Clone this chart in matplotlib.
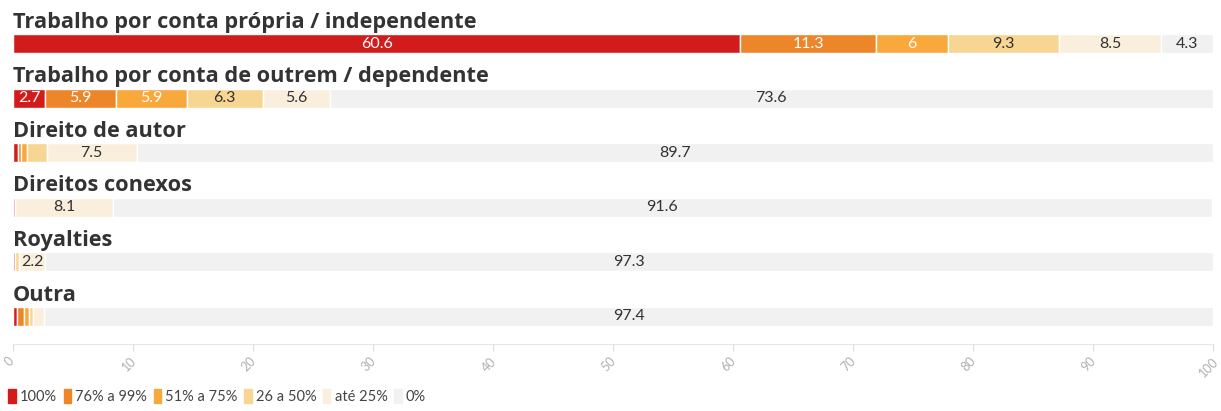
import matplotlib.pyplot as plt
import matplotlib.patches as mpatches
import matplotlib.transforms as mtransforms
import numpy as np

# Dados
categorias = [
    'Trabalho por conta própria / independente',
    'Trabalho por conta de outrem / dependente',
    'Direito de autor',
    'Direitos conexos',
    'Royalties',
    'Outra',
]
escalas = ['100%', '76% a 99%', '51% a 75%', '26 a 50%', 'até 25%', '0%']
v_100 = [60.6, 2.7, 0.4, 0.2, 0.2, 0.3]
v_76_99 = [11.3, 5.9, 0.3, 0.0, 0.0, 0.6]
v_51_75 = [6.0, 5.9, 0.5, 0.0, 0.0, 0.4]
v_26_50 = [9.3, 6.3, 1.6, 0.0, 0.3, 0.4]
v_ate25 = [8.5, 5.6, 7.5, 8.1, 2.2, 0.9]
v_0 = [4.3, 73.6, 89.7, 91.6, 97.3, 97.4]

cores = ['#d21c1c', '#ec8628', '#f9a93b', '#f7d592', '#f9efdc', '#f1f1f1']
cor_texto = ['white', 'white', 'white', '#333333', '#333333', '#333333']

series = [v_100, v_76_99, v_51_75, v_26_50, v_ate25, v_0]

plt.rcParams['font.family'] = ['Lato', 'DejaVu Sans']

fig = plt.figure(figsize=(12.21, 4.11), dpi=100)
W, H = 1221, 411
ax = fig.add_axes([13 / W, 1 - 344 / H, 1200 / W, 344 / H])

y = np.arange(len(categorias))
esquerda = np.zeros(len(categorias))
for serie, cor, ct in zip(series, cores, cor_texto):
    vals = np.array(serie)
    ax.barh(y, vals, left=esquerda, height=0.35, color=cor,
            edgecolor='white', linewidth=1)
    for i, v in enumerate(vals):
        if v >= 2:
            ax.text(esquerda[i] + v / 2, y[i], f'{v:g}', ha='center',
                    va='center', fontsize=11.5, color=ct)
    esquerda += vals

# titulos das linhas
for i, nome in enumerate(categorias):
    ax.text(0, y[i] - 0.29, nome, ha='left', va='baseline',
            fontsize=15.7, fontweight='bold', color='#333333',
            family='Open Sans')

ax.set_xlim(0, 100)
ax.set_ylim(5.504, -0.797)
ax.set_xticks(np.arange(0, 101, 10))
ax.tick_params(axis='x', colors='#dddddd', labelcolor='#b0b0b0',
               labelsize=9, length=5, rotation=45, pad=3)
desloc = mtransforms.ScaledTranslation(-4 / 100, 0, fig.dpi_scale_trans)
for lbl in ax.get_xticklabels():
    lbl.set_transform(lbl.get_transform() + desloc)
ax.set_yticks([])
for lado in ['top', 'left', 'right']:
    ax.spines[lado].set_visible(False)
ax.spines['bottom'].set_color('#e6e6e6')

handles = [mpatches.Patch(color=c, label=l) for c, l in zip(cores, escalas)]
fig.legend(handles=handles, loc='lower left', bbox_to_anchor=(-0.004, -0.015),
           ncol=6, frameon=False, fontsize=10.5, handlelength=0.5,
           handleheight=1.1, handletextpad=0.3, columnspacing=0.45,
           labelcolor='#444444')

fig.savefig('out.png', dpi=100)
